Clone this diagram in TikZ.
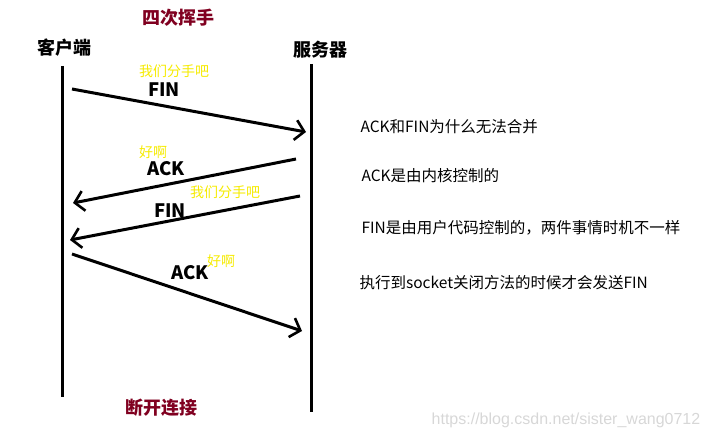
\documentclass[tikz,border=0pt]{standalone}
\usepackage{fontspec}
\newfontfamily\cjk{Noto Sans CJK SC}
\usetikzlibrary{arrows.meta}
\definecolor{darkred}{RGB}{128,0,32}
\definecolor{msgyellow}{RGB}{245,235,0}
\definecolor{wm}{RGB}{215,215,215}
\tikzset{
  life/.style={line width=3pt},
  msg/.style={line width=3pt,-{Straight Barb[length=9pt,width=20pt,line width=2.6pt]}},
  head/.style={font=\cjk\bfseries\fontsize{18}{18}\selectfont},
  redhead/.style={font=\cjk\bfseries\fontsize{18}{18}\selectfont,text=darkred},
  lbl/.style={font=\cjk\bfseries\fontsize{18.5}{18}\selectfont},
  yel/.style={font=\cjk\fontsize{14}{14}\selectfont,text=msgyellow},
  note/.style={font=\cjk\fontsize{15.5}{16}\selectfont,anchor=west},
  wmark/.style={font=\fontspec{Liberation Sans}\fontsize{16}{16}\selectfont,text=wm}
}
\begin{document}
\begin{tikzpicture}[x=1pt,y=-1pt]
\useasboundingbox (0,0) rectangle (702,438);
\node[redhead] (title) at (178,18) {四次挥手};
\node[head] (client) at (64,48) {客户端};
\node[head] (server) at (320,50) {服务器};
\coordinate (c0) at (62,66); \coordinate (c1) at (62,397);
\coordinate (s0) at (311,64); \coordinate (s1) at (311,412);
\draw[life] (c0) -- (c1);
\draw[life] (s0) -- (s1);
% message 1
\coordinate (a1s) at (72,89); \coordinate (a1e) at (306,132);
\draw[msg] (a1s) -- (a1e);
\node[yel] (y1) at (174,71) {我们分手吧};
\node[lbl] (f1) at (164,90) {FIN};
% message 2
\coordinate (a2s) at (296,159); \coordinate (a2e) at (73,203);
\draw[msg] (a2s) -- (a2e);
\node[yel] (y2) at (153,152) {好啊};
\node[lbl] (k1) at (166,169) {ACK};
% message 3
\coordinate (a3s) at (300,196); \coordinate (a3e) at (70,240);
\draw[msg] (a3s) -- (a3e);
\node[yel] (y3) at (225,192) {我们分手吧};
\node[lbl] (f2) at (170,211) {FIN};
% message 4
\coordinate (a4s) at (72,254); \coordinate (a4e) at (302,331);
\draw[msg] (a4s) -- (a4e);
\node[yel] (y4) at (221,261) {好啊};
\node[lbl] (k2) at (190,273) {ACK};
% notes
\node[note] (n1) at (357,127) {ACK和FIN为什么无法合并};
\node[note] (n2) at (358,176) {ACK是由内核控制的};
\node[note] (n3) at (358,228) {FIN是由用户代码控制的，两件事情时机不一样};
\node[note] (n4) at (356,283) {执行到socket关闭方法的时候才会发送FIN};
\node[redhead] (end) at (161,408) {断开连接};
\node[wmark] (wm) at (566,420) {https://blog.csdn.net/sister\_wang0712};
\end{tikzpicture}
\end{document}
